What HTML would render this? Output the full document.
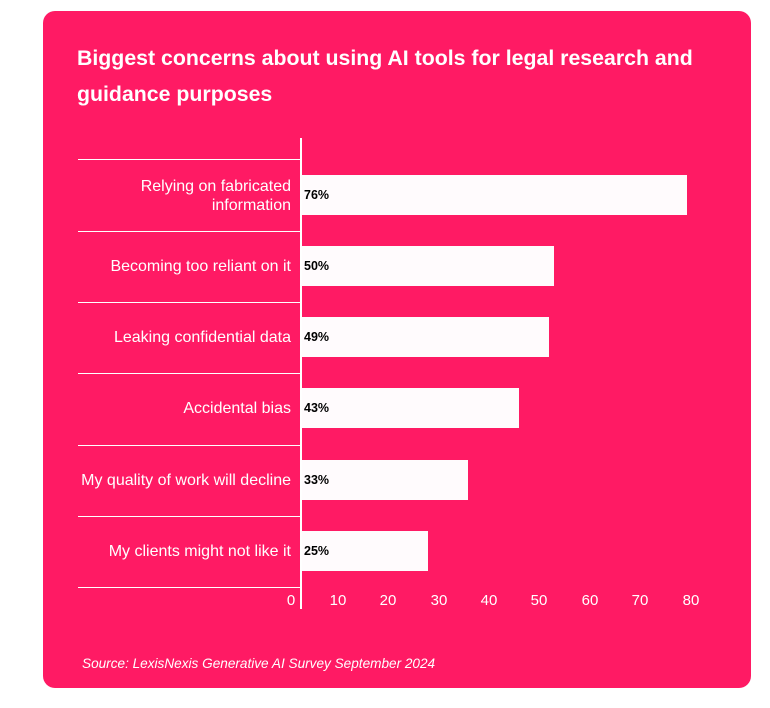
<!DOCTYPE html>
<html><head><style>
body{margin:0;width:770px;height:708px;background:#fff;position:relative;overflow:hidden;font-family:"Liberation Sans",sans-serif}
.card{position:absolute;left:43px;top:11px;width:708px;height:677px;background:#ff1a64;border-radius:12px}
.t{position:absolute;left:77px;top:40px;color:#fff;font-weight:bold;font-size:21.3px;line-height:36px;width:660px}
.g{position:absolute;left:78px;width:222px;height:1px;background:#fff}
.ax{position:absolute;left:300px;top:138px;width:2px;height:471px;background:#fff}
.bar{position:absolute;left:302px;height:40px;background:#fffbfd}
.v{position:absolute;left:304px;font-size:12.5px;font-weight:bold;color:#000;line-height:40px}
.l{position:absolute;right:479px;color:#fff;font-size:16px;text-align:right;line-height:19px;white-space:nowrap}
.tk{position:absolute;top:592px;color:#fff;font-size:15px;width:40px;margin-left:-20px;text-align:center}
.s{position:absolute;left:82px;top:656px;color:#fff;font-style:italic;font-size:13.6px}
</style></head><body>
<div class="card"></div>
<div class="t">Biggest concerns about using AI tools for legal research and guidance purposes</div>
<div class="g" style="top:159px"></div><div class="g" style="top:231px"></div><div class="g" style="top:302px"></div><div class="g" style="top:373px"></div><div class="g" style="top:445px"></div><div class="g" style="top:516px"></div><div class="g" style="top:587px"></div>
<div class="ax"></div>
<div class="bar" style="top:175px;width:385px"></div><div class="v" style="top:175px">76%</div>
<div class="bar" style="top:246px;width:252px"></div><div class="v" style="top:246px">50%</div>
<div class="bar" style="top:317px;width:247px"></div><div class="v" style="top:317px">49%</div>
<div class="bar" style="top:388px;width:217px"></div><div class="v" style="top:388px">43%</div>
<div class="bar" style="top:460px;width:166px"></div><div class="v" style="top:460px">33%</div>
<div class="bar" style="top:531px;width:126px"></div><div class="v" style="top:531px">25%</div>
<div class="l" style="top:177px">Relying on fabricated<br>information</div>
<div class="l" style="top:257px">Becoming too reliant on it</div>
<div class="l" style="top:328px">Leaking confidential data</div>
<div class="l" style="top:399px">Accidental bias</div>
<div class="l" style="top:471px">My quality of work will decline</div>
<div class="l" style="top:542px">My clients might not like it</div>
<div class="tk" style="left:291px">0</div><div class="tk" style="left:338px">10</div><div class="tk" style="left:388px">20</div><div class="tk" style="left:439px">30</div><div class="tk" style="left:489px">40</div><div class="tk" style="left:539px">50</div><div class="tk" style="left:590px">60</div><div class="tk" style="left:640px">70</div><div class="tk" style="left:691px">80</div>
<div class="s">Source: LexisNexis Generative AI Survey September 2024</div>
</body></html>
